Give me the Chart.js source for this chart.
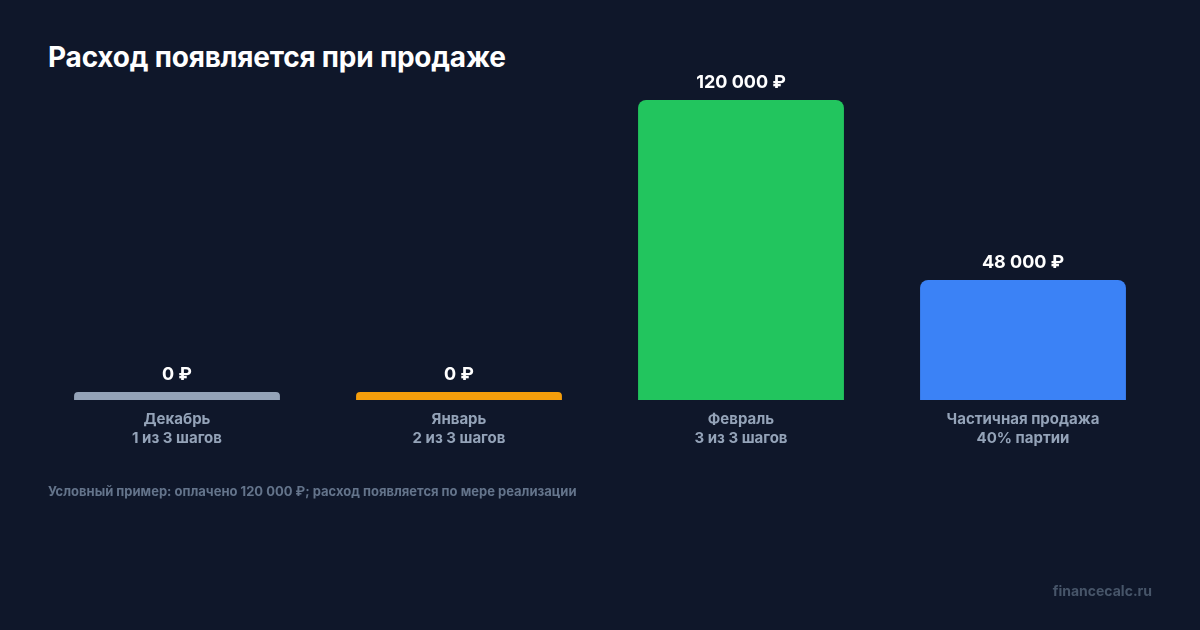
<!DOCTYPE html>
<html lang="ru">
<head>
<meta charset="utf-8">
<script src="https://cdn.jsdelivr.net/npm/chart.js@4.4.1/dist/chart.umd.min.js"></script>
<style>
  html, body { margin: 0; padding: 0; }
  body {
    width: 1200px; height: 630px; overflow: hidden; position: relative;
    background: #0f172a; font-family: Inter, "Noto Sans", sans-serif;
  }
  .title {
    position: absolute; left: 48px; top: 39px; margin: 0;
    color: #ffffff; font-size: 28px; font-weight: 700; line-height: 36px;
    letter-spacing: -0.2px;
  }
  .note {
    position: absolute; left: 48px; top: 482px;
    color: #64748b; font-size: 13px; font-weight: 700; line-height: 18px;
  }
  .brand {
    position: absolute; right: 48px; top: 581px;
    color: #475569; font-size: 14px; font-weight: 700; line-height: 20px;
  }
  .chart-box { position: absolute; left: 0; top: 0; width: 1200px; height: 630px; }
  #costChart { display: block; }
</style>
</head>
<body>
<h1 class="title">Расход появляется при продаже</h1>
<div class="chart-box"><canvas id="costChart" width="1200" height="630"></canvas></div>
<div class="note">Условный пример: оплачено 120 000 ₽; расход появляется по мере реализации</div>
<div class="brand">financecalc.ru</div>

<script>
'use strict'

// данные
const stages = ['Декабрь', 'Январь', 'Февраль', 'Частичная продажа'];
const stageNotes = ['1 из 3 шагов', '2 из 3 шагов', '3 из 3 шагов', '40% партии'];
const costValues = [0, 0, 120000, 48000];
const barColors = ['#94a3b8', '#f59e0b', '#22c55e', '#3b82f6'];
const yMax = 120000;

const fmtRub = (v) => v.toLocaleString('ru-RU').replace(/\s/g, ' ') + ' ₽';

// подписи значений над столбцами
const valueLabels = {
  id: 'valueLabels',
  afterDatasetsDraw(chart) {
    const c = chart.ctx;
    const meta = chart.getDatasetMeta(0);
    c.save();
    c.font = '700 18px Inter, "Noto Sans", sans-serif';
    c.fillStyle = '#ffffff';
    c.textAlign = 'center';
    c.textBaseline = 'middle';
    meta.data.forEach((bar, i) => {
      c.fillText(fmtRub(costValues[i]), bar.x, bar.y - 17);
    });
    c.restore();
  }
};

const ctx = document.getElementById('costChart');
const costChart = new Chart(ctx, {
  type: 'bar',
  data: {
    labels: stages.map((s, i) => [s, stageNotes[i]]),
    datasets: [{
      data: costValues,
      backgroundColor: barColors,
      borderRadius: { topLeft: 8, topRight: 8 },
      borderSkipped: 'bottom',
      minBarLength: 8,
      barPercentage: 1,
      categoryPercentage: 0.73,
    }]
  },
  options: {
    responsive: false,
    animation: false,
    devicePixelRatio: 1,
    layout: {
      padding: { left: 36, right: 36, top: 100, bottom: 170 }
    },
    scales: {
      x: {
        grid: { display: false, drawTicks: false },
        border: { display: false },
        ticks: {
          color: '#94a3b8',
          padding: 10,
          font: { family: 'Inter, "Noto Sans", sans-serif', size: 15, weight: '700', lineHeight: 1.27 },
          maxRotation: 0,
          autoSkip: false,
        },
        afterFit(scale) { scale.height = 60; }
      },
      y: {
        display: false,
        min: 0,
        max: yMax,
      }
    },
    plugins: {
      legend: { display: false },
      tooltip: { enabled: false },
    }
  },
  plugins: [valueLabels]
});
</script>
</body>
</html>
